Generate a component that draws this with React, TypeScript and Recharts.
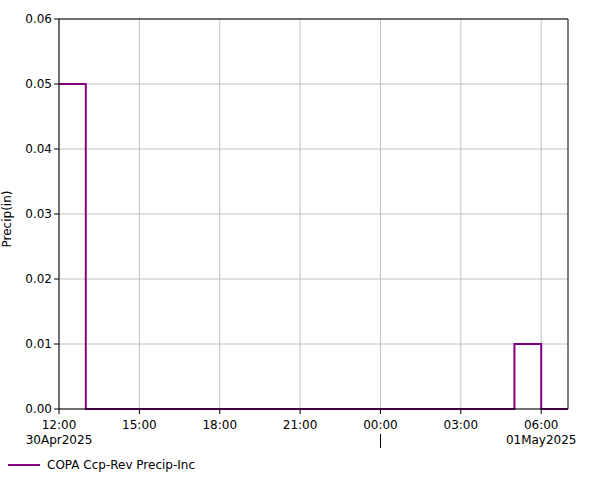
import React from 'react';
import { LineChart, Line, XAxis, YAxis, CartesianGrid, ReferenceLine } from 'recharts';

// hours since 30Apr2025 12:00
const hours = [0, 1, 2, 3, 4, 5, 6, 7, 8, 9, 10, 11, 12, 13, 14, 15, 16, 17, 18, 19];
const precip = [0.05, 0.05, 0, 0, 0, 0, 0, 0, 0, 0, 0, 0, 0, 0, 0, 0, 0, 0, 0.01, 0];

const xTicks = [0, 3, 6, 9, 12, 15, 18];
const xTickLabels = ['12:00', '15:00', '18:00', '21:00', '00:00', '03:00', '06:00'];
const xDateLabels: Record<number, string> = { 0: '30Apr2025', 18: '01May2025' };
const yTicks = [0, 0.01, 0.02, 0.03, 0.04, 0.05, 0.06];

const data = hours.map((h, i) => ({ h, value: precip[i] }));

const FONT = 'DejaVu Sans, Verdana, sans-serif';

const XTick = (props: any) => {
  const { x, y, payload } = props;
  const idx = xTicks.indexOf(payload.value);
  const date = xDateLabels[payload.value];
  return (
    <g>
      <text x={x} y={y} dy={13} textAnchor="middle" fontSize={12} fontFamily={FONT} fill="#000">
        {xTickLabels[idx]}
      </text>
      {date && (
        <text x={x} y={y} dy={28} textAnchor="middle" fontSize={12} fontFamily={FONT} fill="#000">
          {date}
        </text>
      )}
      {payload.value === 12 && <line x1={x} x2={x} y1={y + 18} y2={y + 32} stroke="#000" />}
    </g>
  );
};

const YLabel = () => (
  <text
    x={7}
    y={219}
    transform="rotate(-90, 7, 219)"
    textAnchor="middle"
    dominantBaseline="central"
    fontSize={12}
    fontFamily={FONT}
    fill="#000"
  >
    Precip(in)
  </text>
);

export default function App() {
  return (
    <div style={{ position: 'absolute', left: 0, top: 0, width: 601, height: 480, background: '#fff', fontFamily: FONT }}>
      <LineChart width={601} height={480} data={data} margin={{ top: 19, right: 33, bottom: 31, left: 0 }}>
        <CartesianGrid stroke="#c0c0c0" horizontalValues={yTicks} verticalValues={xTicks} />
        <XAxis
          dataKey="h"
          type="number"
          domain={[0, 19]}
          ticks={xTicks}
          interval={0}
          height={40}
          stroke="#000"
          tickSize={5}
          tickMargin={2}
          tick={<XTick />}
        />
        <YAxis
          type="number"
          domain={[0, 0.06]}
          ticks={yTicks}
          interval={0}
          width={59}
          stroke="#000"
          tickSize={5}
          tickMargin={2}
          tickFormatter={(v: number) => v.toFixed(2)}
          tick={{ fontSize: 12, fontFamily: FONT, fill: '#000' }}
          label={<YLabel />}
        />
        <ReferenceLine y={0.06} stroke="#000" />
        <ReferenceLine x={19} stroke="#000" />
        <Line
          type="stepBefore"
          dataKey="value"
          stroke="#800080"
          strokeWidth={2}
          dot={false}
          isAnimationActive={false}
        />
      </LineChart>
      <div style={{ position: 'absolute', left: 8, top: 458, display: 'flex', alignItems: 'center', fontSize: 12 }}>
        <span style={{ display: 'inline-block', width: 32, height: 2, background: '#800080', marginRight: 7 }} />
        <span>COPA Ccp-Rev Precip-Inc</span>
      </div>
    </div>
  );
}
